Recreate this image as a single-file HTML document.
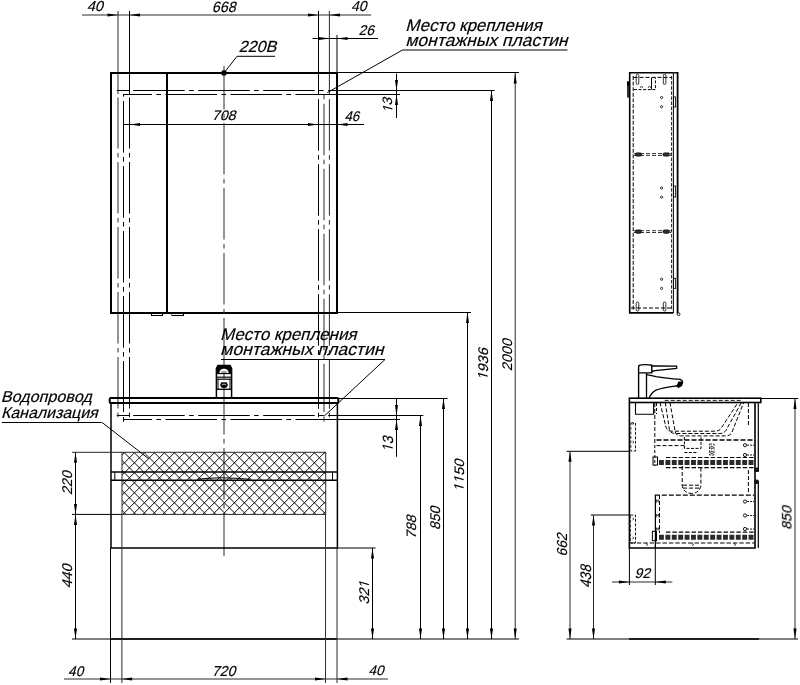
<!DOCTYPE html>
<html><head><meta charset="utf-8"><style>
html,body{margin:0;padding:0;background:#fff;}
svg{display:block;}
text{font-family:"Liberation Sans",sans-serif;}
.tx{will-change:transform;}
</style></head><body>
<svg width="800" height="685" viewBox="0 0 800 685">
<rect width="800" height="685" fill="#fff"/>
<line x1="82" y1="15" x2="371" y2="15" stroke="#2a2a2a" stroke-width="1" />
<polygon points="118.00,15.00 107.50,13.45 107.50,16.55" fill="#000"/>
<polygon points="129.50,15.00 140.00,13.45 140.00,16.55" fill="#000"/>
<polygon points="318.50,15.00 308.00,13.45 308.00,16.55" fill="#000"/>
<polygon points="329.50,15.00 340.00,13.45 340.00,16.55" fill="#000"/>
<line x1="312.5" y1="38.5" x2="378" y2="38.5" stroke="#000" stroke-width="1" />
<line x1="337" y1="35" x2="337" y2="73" stroke="#000" stroke-width="1" />
<polygon points="329.50,38.50 319.00,36.95 319.00,40.05" fill="#000"/>
<polygon points="337.00,38.50 347.50,36.95 347.50,40.05" fill="#000"/>
<line x1="118" y1="11" x2="118" y2="94" stroke="#2a2a2a" stroke-width="1" />
<line x1="118" y1="97.5" x2="118" y2="408.8" stroke="#2a2a2a" stroke-width="1" stroke-dasharray="51.5 4.4 4.6 4.5" stroke-dashoffset="0.5"/>
<line x1="118" y1="412.7" x2="118" y2="417.2" stroke="#2a2a2a" stroke-width="1" />
<line x1="129.5" y1="11" x2="129.5" y2="94" stroke="#000" stroke-width="1" />
<line x1="129.5" y1="97.5" x2="129.5" y2="408.8" stroke="#000" stroke-width="1" stroke-dasharray="51.5 4.4 4.6 4.5" stroke-dashoffset="0.5"/>
<line x1="129.5" y1="412.7" x2="129.5" y2="417.2" stroke="#000" stroke-width="1" />
<line x1="318.5" y1="11" x2="318.5" y2="94" stroke="#000" stroke-width="1" />
<line x1="318.5" y1="97.5" x2="318.5" y2="408.8" stroke="#000" stroke-width="1" stroke-dasharray="51.5 4.4 4.6 4.5" stroke-dashoffset="63.30000000000001"/>
<line x1="318.5" y1="412.7" x2="318.5" y2="417.2" stroke="#000" stroke-width="1" />
<line x1="329.4" y1="11" x2="329.4" y2="94" stroke="#2a2a2a" stroke-width="1" />
<line x1="329.4" y1="97.5" x2="329.4" y2="408.8" stroke="#2a2a2a" stroke-width="1" stroke-dasharray="51.5 4.4 4.6 4.5" stroke-dashoffset="63.30000000000001"/>
<line x1="329.4" y1="412.7" x2="329.4" y2="417.2" stroke="#2a2a2a" stroke-width="1" />
<line x1="123.5" y1="94" x2="123.5" y2="412" stroke="#000" stroke-width="1" stroke-dasharray="51.5 4.4 4.6 4.5" stroke-dashoffset="57.900000000000006"/>
<line x1="123.5" y1="417" x2="123.5" y2="421.7" stroke="#000" stroke-width="1" />
<line x1="324" y1="94" x2="324" y2="412" stroke="#2a2a2a" stroke-width="1" stroke-dasharray="51.5 4.4 4.6 4.5" stroke-dashoffset="55.19999999999999"/>
<line x1="324" y1="417" x2="324" y2="421.7" stroke="#2a2a2a" stroke-width="1" />
<rect x="111" y="73" width="226" height="240" stroke="#000" stroke-width="2" fill="none" />
<line x1="167" y1="73" x2="167" y2="313" stroke="#000" stroke-width="2" />
<rect x="151.5" y="313.5" width="11" height="2" stroke="#000" stroke-width="1" fill="none" />
<rect x="172" y="313.5" width="11.5" height="2" stroke="#000" stroke-width="1" fill="none" />
<line x1="338" y1="72.5" x2="519" y2="72.5" stroke="#000" stroke-width="1" />
<line x1="338" y1="312.5" x2="471" y2="312.5" stroke="#000" stroke-width="1" />
<line x1="116.75" y1="90.5" x2="129.5" y2="90.5" stroke="#000" stroke-width="1" />
<line x1="133.2" y1="90.5" x2="337" y2="90.5" stroke="#000" stroke-width="1" stroke-dasharray="51.5 4.4 4.6 4.5" stroke-dashoffset="0"/>
<line x1="337" y1="90.5" x2="494.6" y2="90.5" stroke="#000" stroke-width="1" />
<line x1="123.5" y1="94.5" x2="337" y2="94.5" stroke="#000" stroke-width="1" stroke-dasharray="51.5 4.4 4.6 4.5" stroke-dashoffset="23.0"/>
<line x1="337" y1="94.5" x2="400" y2="94.5" stroke="#000" stroke-width="1" />
<line x1="224" y1="66" x2="224" y2="556" stroke="#2a2a2a" stroke-width="1" stroke-dasharray="51.5 4.4 4.6 4.5" stroke-dashoffset="8.0"/>
<circle cx="224" cy="73" r="2.8" fill="#000"/>
<path d="M224,73 L237,56.3 L275,56.3" stroke="#000" stroke-width="1" fill="none" />
<line x1="123.5" y1="124.5" x2="364" y2="124.5" stroke="#000" stroke-width="1" />
<polygon points="129.50,124.50 140.00,122.95 140.00,126.05" fill="#000"/>
<polygon points="318.50,124.50 308.00,122.95 308.00,126.05" fill="#000"/>
<polygon points="337.00,124.50 347.50,122.95 347.50,126.05" fill="#000"/>
<line x1="396.5" y1="73.6" x2="396.5" y2="118" stroke="#000" stroke-width="1" />
<polygon points="396.50,90.50 394.95,80.00 398.05,80.00" fill="#000"/>
<polygon points="396.50,94.50 394.95,105.00 398.05,105.00" fill="#000"/>
<line x1="402.5" y1="50" x2="567.5" y2="50" stroke="#000" stroke-width="1" />
<line x1="402.5" y1="50" x2="327.3" y2="92.6" stroke="#000" stroke-width="1" />
<line x1="515.2" y1="73" x2="515.2" y2="639" stroke="#2a2a2a" stroke-width="1" />
<polygon points="515.20,73.00 513.65,83.50 516.75,83.50" fill="#000"/>
<polygon points="515.20,639.00 513.65,628.50 516.75,628.50" fill="#000"/>
<line x1="491.5" y1="90.5" x2="491.5" y2="639" stroke="#000" stroke-width="1" />
<polygon points="491.50,90.50 489.95,101.00 493.05,101.00" fill="#000"/>
<polygon points="491.50,639.00 489.95,628.50 493.05,628.50" fill="#000"/>
<line x1="467.5" y1="312.5" x2="467.5" y2="639" stroke="#000" stroke-width="1" />
<polygon points="467.50,312.50 465.95,323.00 469.05,323.00" fill="#000"/>
<polygon points="467.50,639.00 465.95,628.50 469.05,628.50" fill="#000"/>
<line x1="443.5" y1="398.5" x2="443.5" y2="639" stroke="#000" stroke-width="1" />
<polygon points="443.50,398.50 441.95,409.00 445.05,409.00" fill="#000"/>
<polygon points="443.50,639.00 441.95,628.50 445.05,628.50" fill="#000"/>
<line x1="420.5" y1="415.5" x2="420.5" y2="639" stroke="#000" stroke-width="1" />
<polygon points="420.50,415.50 418.95,426.00 422.05,426.00" fill="#000"/>
<polygon points="420.50,639.00 418.95,628.50 422.05,628.50" fill="#000"/>
<line x1="396.5" y1="398.75" x2="396.5" y2="456.8" stroke="#000" stroke-width="1" />
<polygon points="396.50,415.50 394.95,405.00 398.05,405.00" fill="#000"/>
<polygon points="396.50,419.50 394.95,430.00 398.05,430.00" fill="#000"/>
<line x1="372.5" y1="548" x2="372.5" y2="639" stroke="#000" stroke-width="1" />
<polygon points="372.50,548.00 370.95,558.50 374.05,558.50" fill="#000"/>
<polygon points="372.50,639.00 370.95,628.50 374.05,628.50" fill="#000"/>
<line x1="339" y1="398.5" x2="447.5" y2="398.5" stroke="#000" stroke-width="1" />
<line x1="116.75" y1="415.5" x2="129.5" y2="415.5" stroke="#000" stroke-width="1" />
<line x1="133.2" y1="415.5" x2="337" y2="415.5" stroke="#000" stroke-width="1" stroke-dasharray="51.5 4.4 4.6 4.5" stroke-dashoffset="0"/>
<line x1="337" y1="415.5" x2="423.3" y2="415.5" stroke="#000" stroke-width="1" />
<line x1="123.5" y1="419.5" x2="337" y2="419.5" stroke="#000" stroke-width="1" stroke-dasharray="51.5 4.4 4.6 4.5" stroke-dashoffset="23.0"/>
<line x1="337" y1="419.5" x2="400" y2="419.5" stroke="#000" stroke-width="1" />
<line x1="337" y1="548" x2="375.5" y2="548" stroke="#000" stroke-width="1" />
<line x1="72" y1="639" x2="519" y2="639" stroke="#000" stroke-width="1.2" />
<line x1="111" y1="639" x2="337" y2="639" stroke="#000" stroke-width="1.6" />
<defs><clipPath id="hc"><rect x="122" y="452.3" width="203.7" height="62.099999999999966"/></clipPath></defs>
<path d="M41.90,450.3 L108.00,516.4 M51.90,450.3 L118.00,516.4 M61.90,450.3 L128.00,516.4 M71.90,450.3 L138.00,516.4 M81.90,450.3 L148.00,516.4 M91.90,450.3 L158.00,516.4 M101.90,450.3 L168.00,516.4 M111.90,450.3 L178.00,516.4 M121.90,450.3 L188.00,516.4 M131.90,450.3 L198.00,516.4 M141.90,450.3 L208.00,516.4 M151.90,450.3 L218.00,516.4 M161.90,450.3 L228.00,516.4 M171.90,450.3 L238.00,516.4 M181.90,450.3 L248.00,516.4 M191.90,450.3 L258.00,516.4 M201.90,450.3 L268.00,516.4 M211.90,450.3 L278.00,516.4 M221.90,450.3 L288.00,516.4 M231.90,450.3 L298.00,516.4 M241.90,450.3 L308.00,516.4 M251.90,450.3 L318.00,516.4 M261.90,450.3 L328.00,516.4 M271.90,450.3 L338.00,516.4 M281.90,450.3 L348.00,516.4 M291.90,450.3 L358.00,516.4 M301.90,450.3 L368.00,516.4 M311.90,450.3 L378.00,516.4 M321.90,450.3 L388.00,516.4 M331.90,450.3 L398.00,516.4 M341.90,450.3 L408.00,516.4 M106.90,450.3 L40.80,516.4 M116.90,450.3 L50.80,516.4 M126.90,450.3 L60.80,516.4 M136.90,450.3 L70.80,516.4 M146.90,450.3 L80.80,516.4 M156.90,450.3 L90.80,516.4 M166.90,450.3 L100.80,516.4 M176.90,450.3 L110.80,516.4 M186.90,450.3 L120.80,516.4 M196.90,450.3 L130.80,516.4 M206.90,450.3 L140.80,516.4 M216.90,450.3 L150.80,516.4 M226.90,450.3 L160.80,516.4 M236.90,450.3 L170.80,516.4 M246.90,450.3 L180.80,516.4 M256.90,450.3 L190.80,516.4 M266.90,450.3 L200.80,516.4 M276.90,450.3 L210.80,516.4 M286.90,450.3 L220.80,516.4 M296.90,450.3 L230.80,516.4 M306.90,450.3 L240.80,516.4 M316.90,450.3 L250.80,516.4 M326.90,450.3 L260.80,516.4 M336.90,450.3 L270.80,516.4 M346.90,450.3 L280.80,516.4 M356.90,450.3 L290.80,516.4 M366.90,450.3 L300.80,516.4 M376.90,450.3 L310.80,516.4 M386.90,450.3 L320.80,516.4 M396.90,450.3 L330.80,516.4 M406.90,450.3 L340.80,516.4" stroke="#000" stroke-width="0.95" fill="none" clip-path="url(#hc)"/>
<rect x="122" y="452.3" width="203.7" height="62.099999999999966" stroke="#2a2a2a" stroke-width="1" fill="none" />
<rect x="109.7" y="398" width="228.6" height="5" stroke="#000" stroke-width="2" fill="none"  rx="1"/>
<path d="M111,403 L111,548 L337.4,548 L337.4,403" stroke="#000" stroke-width="1.5" fill="none" />
<line x1="111" y1="472" x2="337.4" y2="472" stroke="#000" stroke-width="1.5" />
<line x1="111" y1="480.3" x2="337.4" y2="480.3" stroke="#000" stroke-width="1.5" />
<line x1="114.8" y1="472" x2="114.8" y2="480.3" stroke="#000" stroke-width="1" />
<line x1="332.5" y1="472" x2="332.5" y2="480.3" stroke="#000" stroke-width="1" />
<path d="M197,479.3 Q220,476.2 250,479.3" stroke="#000" stroke-width="1.1" fill="none" />
<line x1="72" y1="452.3" x2="122" y2="452.3" stroke="#2a2a2a" stroke-width="1" />
<line x1="72" y1="514.4" x2="122" y2="514.4" stroke="#000" stroke-width="1" />
<line x1="110.5" y1="548" x2="110.5" y2="683" stroke="#000" stroke-width="1" />
<line x1="121.9" y1="514.4" x2="121.9" y2="683" stroke="#2a2a2a" stroke-width="1" />
<line x1="325.5" y1="514.4" x2="325.5" y2="683" stroke="#333" stroke-width="1" />
<line x1="337" y1="548" x2="337" y2="683" stroke="#2a2a2a" stroke-width="1" />
<line x1="75.5" y1="452.3" x2="75.5" y2="639" stroke="#000" stroke-width="1" />
<polygon points="75.50,452.30 73.95,462.80 77.05,462.80" fill="#000"/>
<polygon points="75.50,514.40 73.95,503.90 77.05,503.90" fill="#000"/>
<polygon points="75.50,514.40 73.95,524.90 77.05,524.90" fill="#000"/>
<polygon points="75.50,639.00 73.95,628.50 77.05,628.50" fill="#000"/>
<line x1="64" y1="679" x2="388" y2="679" stroke="#2a2a2a" stroke-width="1.1" />
<polygon points="110.50,679.00 100.00,677.45 100.00,680.55" fill="#000"/>
<polygon points="121.70,679.00 132.20,677.45 132.20,680.55" fill="#000"/>
<polygon points="325.50,679.00 315.00,677.45 315.00,680.55" fill="#000"/>
<polygon points="337.00,679.00 347.50,677.45 347.50,680.55" fill="#000"/>
<line x1="1.8" y1="422.5" x2="101.5" y2="422.5" stroke="#000" stroke-width="1" />
<line x1="102" y1="422.4" x2="149" y2="459" stroke="#000" stroke-width="1" />
<line x1="221" y1="359.5" x2="385" y2="359.5" stroke="#000" stroke-width="1" />
<line x1="385" y1="359.5" x2="323.8" y2="416.5" stroke="#000" stroke-width="1" />
<path d="M216.4,397.5 L216.4,368.5 L218,365.4 L230,365.4 L231.6,368.5 L231.6,397.5" stroke="#000" stroke-width="1.5" fill="none" />
<path d="M216.4,368.5 L218,365.4 L230,365.4 L231.6,368.5 L231.6,373.5 L216.4,373.5 Z" stroke="#000" stroke-width="0" fill="#000" />
<path d="M219.2,373.5 Q219.5,369 224,368.8 Q228.5,369 228.8,373.5 Z" stroke="#000" stroke-width="0" fill="#fff" />
<path d="M220.5,373.5 Q221,370.8 224,370.6 Q227,370.8 227.5,373.5 Z" stroke="#000" stroke-width="0" fill="#000" opacity="0.35"/>
<line x1="216.4" y1="373.6" x2="231.6" y2="373.6" stroke="#000" stroke-width="1.1" />
<line x1="216.4" y1="377.2" x2="231.6" y2="377.2" stroke="#000" stroke-width="1.2" />
<line x1="216.4" y1="379.2" x2="231.6" y2="379.2" stroke="#000" stroke-width="1.2" />
<line x1="218" y1="379" x2="218" y2="389" stroke="#000" stroke-width="1" />
<line x1="230" y1="379" x2="230" y2="389" stroke="#000" stroke-width="1" />
<path d="M220,385 L221.5,382.2 L226.5,382.2 L228,385 L226.5,387.8 L221.5,387.8 Z" stroke="#000" stroke-width="0" fill="#000" />
<path d="M221.8,385 Q224,382.8 226.2,385" stroke="#fff" stroke-width="0.8" fill="none" />
<line x1="216.4" y1="389.3" x2="231.6" y2="389.3" stroke="#000" stroke-width="1.3" />
<path d="M673.2,72.8 L629.7,72.8 L629.7,312.9 L673.2,312.9" stroke="#000" stroke-width="1.6" fill="none" />
<line x1="677.6" y1="72" x2="677.6" y2="313.5" stroke="#000" stroke-width="1.8" />
<line x1="673.4" y1="73" x2="673.4" y2="313" stroke="#000" stroke-width="1" />
<line x1="673.2" y1="72.8" x2="678" y2="72.8" stroke="#000" stroke-width="1.4" />
<line x1="633.2" y1="76" x2="633.2" y2="310" stroke="#000" stroke-width="1" stroke-dasharray="4 1.6" stroke-dashoffset="0"/>
<line x1="671.6" y1="76" x2="671.6" y2="310" stroke="#000" stroke-width="0.9" stroke-dasharray="3.5 1.6" stroke-dashoffset="0"/>
<line x1="633.5" y1="77.4" x2="671.6" y2="77.4" stroke="#000" stroke-width="1" stroke-dasharray="4 2" stroke-dashoffset="0"/>
<line x1="631" y1="308" x2="671.6" y2="308" stroke="#000" stroke-width="1" stroke-dasharray="4 2" stroke-dashoffset="0"/>
<path d="M634,89.6 L655.4,89.6 L655.4,77.4" stroke="#000" stroke-width="1" fill="none" stroke-dasharray="3 1.6"/>
<line x1="651.5" y1="78" x2="651.5" y2="89.6" stroke="#000" stroke-width="1" />
<path d="M640,88 L641.5,86 L643,88 M648,88 L649.5,86 L651,88" stroke="#000" stroke-width="0.7" fill="none" />
<rect x="627" y="81.3" width="3" height="4.5" stroke="#000" stroke-width="0" fill="#000" />
<line x1="628" y1="85" x2="628" y2="97.5" stroke="#000" stroke-width="1.6" />
<rect x="636.2" y="74.3" width="2.6" height="10.100000000000009" stroke="#000" stroke-width="0.8" fill="none" rx="1.2"/>
<rect x="636.2" y="302" width="2.6" height="9" stroke="#000" stroke-width="0.8" fill="none" rx="1.2"/>
<rect x="663.3000000000001" y="74.3" width="2.6" height="10.100000000000009" stroke="#000" stroke-width="0.8" fill="none" rx="1.2"/>
<rect x="663.3000000000001" y="302" width="2.6" height="9" stroke="#000" stroke-width="0.8" fill="none" rx="1.2"/>
<line x1="634" y1="153.6" x2="671" y2="153.6" stroke="#000" stroke-width="0.8" stroke-dasharray="4 2" stroke-dashoffset="0"/>
<line x1="634" y1="155.4" x2="671" y2="155.4" stroke="#000" stroke-width="0.8" stroke-dasharray="4 2" stroke-dashoffset="0"/>
<rect x="635.5" y="152.9" width="6" height="3.2" stroke="#000" stroke-width="0.8" fill="#333" rx="1.4"/>
<rect x="663" y="152.9" width="6.5" height="3.2" stroke="#000" stroke-width="0.8" fill="#333" rx="1.4"/>
<line x1="634" y1="230.7" x2="671" y2="230.7" stroke="#000" stroke-width="0.8" stroke-dasharray="4 2" stroke-dashoffset="0"/>
<line x1="634" y1="232.5" x2="671" y2="232.5" stroke="#000" stroke-width="0.8" stroke-dasharray="4 2" stroke-dashoffset="0"/>
<rect x="635.5" y="230.0" width="6" height="3.2" stroke="#000" stroke-width="0.8" fill="#333" rx="1.4"/>
<rect x="663" y="230.0" width="6.5" height="3.2" stroke="#000" stroke-width="0.8" fill="#333" rx="1.4"/>
<circle cx="661.6" cy="97.5" r="1.1" stroke="#000" stroke-width="0.8" fill="none"/>
<circle cx="661.6" cy="106.7" r="1.1" stroke="#000" stroke-width="0.8" fill="none"/>
<circle cx="661.6" cy="188" r="1.1" stroke="#000" stroke-width="0.8" fill="none"/>
<circle cx="661.6" cy="197.2" r="1.1" stroke="#000" stroke-width="0.8" fill="none"/>
<circle cx="661.6" cy="279.2" r="1.1" stroke="#000" stroke-width="0.8" fill="none"/>
<circle cx="661.6" cy="288.4" r="1.1" stroke="#000" stroke-width="0.8" fill="none"/>
<rect x="673.4" y="97" width="2.2" height="10" stroke="#000" stroke-width="0.8" fill="none" />
<rect x="673.4" y="186" width="2.2" height="11" stroke="#000" stroke-width="0.8" fill="none" />
<rect x="673.4" y="278.3" width="2.2" height="10.099999999999966" stroke="#000" stroke-width="0.8" fill="none" />
<circle cx="678.6" cy="314.2" r="1.4" stroke="#000" stroke-width="0.9" fill="#fff"/>
<path d="M638.6,398 L638.6,367 Q638.6,365 641,364.9 Q646,364.3 651.8,365.2 L651.8,372.9 L638.6,372.9" stroke="#000" stroke-width="1.4" fill="none" />
<path d="M651.8,366 L655,365.8 L676.6,366.2 L676.6,368.4 L655,370.6 L651.8,371.5" stroke="#000" stroke-width="1.3" fill="none" />
<line x1="646.5" y1="373" x2="646.5" y2="398" stroke="#000" stroke-width="1.3" />
<path d="M646.5,374.6 Q652,375.4 656,376.6 Q666,378.3 680.5,379.4 L682.8,381.5" stroke="#000" stroke-width="1.3" fill="none" />
<path d="M682.8,381.5 L681.5,385.5 L678.5,387.2 L676.5,385.8 Q662,387.6 656,390.2 Q651.5,392.5 649.2,398" stroke="#000" stroke-width="1.3" fill="none" />
<path d="M678.4,381.5 L682.8,381.5 L681.5,385.5 L678.5,387.2 L676.6,385.8 Z" stroke="#000" stroke-width="0" fill="#000" />
<rect x="629.4" y="398.2" width="131.4" height="4.3" stroke="#000" stroke-width="1.6" fill="#fff" />
<line x1="664.7" y1="400.4" x2="742" y2="400.4" stroke="#000" stroke-width="0.9" stroke-dasharray="4 2" stroke-dashoffset="0"/>
<path d="M629.4,402.5 L629.4,548 L755,548 L755,402.5" stroke="#000" stroke-width="1.6" fill="none" />
<line x1="758.3" y1="402.5" x2="758.3" y2="472" stroke="#000" stroke-width="1.2" />
<line x1="758.3" y1="481" x2="758.3" y2="548" stroke="#000" stroke-width="1.2" />
<line x1="754" y1="402.5" x2="758.3" y2="402.5" stroke="#000" stroke-width="1" />
<rect x="754.2" y="467.6" width="4.6" height="4.4" rx="2" fill="#111"/>
<rect x="754.2" y="479.6" width="4.6" height="4.4" rx="2" fill="#111"/>
<path d="M635.5,402.6 L635.5,414.3 L653.6,414.3 L653.6,402.6" stroke="#000" stroke-width="1.1" fill="none" />
<line x1="654.8" y1="403" x2="654.8" y2="440" stroke="#000" stroke-width="1" stroke-dasharray="4 2" stroke-dashoffset="0"/>
<line x1="656.5" y1="403" x2="656.5" y2="414" stroke="#000" stroke-width="1" stroke-dasharray="3 2" stroke-dashoffset="0"/>
<path d="M660,402.5 L666,427.2 Q667,431.2 672,431.2 L715.2,431.2 Q719.2,431.2 721.2,428.2 L738,402.5" stroke="#000" stroke-width="1" fill="none" stroke-dasharray="4 2"/>
<path d="M665.3,402.5 L669.4,429.5 Q670.4,433.5 675.4,433.5 L719.9,433.5 Q723.9,433.5 725.9,430.5 L741.4,402.5" stroke="#000" stroke-width="1" fill="none" stroke-dasharray="4 2"/>
<path d="M670,402.5 L675.2,431.9 Q676.2,435.9 681.2,435.9 L725.7,435.9 Q729.7,435.9 731.7,432.9 L743.7,402.5" stroke="#000" stroke-width="1" fill="none" stroke-dasharray="4 2"/>
<path d="M684.4,437 L684.4,448.4 L701,448.4 L701,437" stroke="#000" stroke-width="1" fill="none" stroke-dasharray="3 1.5"/>
<line x1="656.5" y1="445.6" x2="684.4" y2="445.6" stroke="#000" stroke-width="1" stroke-dasharray="4 2" stroke-dashoffset="0"/>
<line x1="684.4" y1="452.5" x2="698" y2="452.5" stroke="#000" stroke-width="1" stroke-dasharray="3 1.5" stroke-dashoffset="0"/>
<rect x="709.5" y="444" width="4.5" height="11" stroke="#000" stroke-width="0.8" fill="none" stroke-dasharray="2.5 1.2"/>
<path d="M711,446 L711,449 Q713,449 713,447.5 Q713,446 711,446" stroke="#000" stroke-width="0.7" fill="none" />
<path d="M711,451 L711,454 Q713,454 713,452.5 Q713,451 711,451" stroke="#000" stroke-width="0.7" fill="none" />
<line x1="656.5" y1="440" x2="754" y2="440" stroke="#000" stroke-width="1.6" stroke-dasharray="5 2" stroke-dashoffset="0"/>
<line x1="666" y1="457.5" x2="754" y2="457.5" stroke="#000" stroke-width="1.1" stroke-dasharray="4.4 2" stroke-dashoffset="0"/>
<line x1="659" y1="462.4" x2="754" y2="462.4" stroke="#2a2a2a" stroke-width="5" stroke-dasharray="4.9 1.5" stroke-dashoffset="0"/>
<line x1="666" y1="467.6" x2="754" y2="467.6" stroke="#000" stroke-width="1.1" stroke-dasharray="4.4 2" stroke-dashoffset="0"/>
<line x1="654.8" y1="440" x2="654.8" y2="466" stroke="#000" stroke-width="1" stroke-dasharray="3 2" stroke-dashoffset="0"/>
<rect x="653" y="457" width="4.5" height="8" stroke="#000" stroke-width="1" fill="none" />
<path d="M682.2,466 L682.2,486 Q684,493.4 691.5,493.4 Q699,493.4 700.9,486 L700.9,466" stroke="#000" stroke-width="1" fill="none" stroke-dasharray="4 2"/>
<line x1="683" y1="485.2" x2="700" y2="485.2" stroke="#000" stroke-width="1" stroke-dasharray="4 2" stroke-dashoffset="0"/>
<line x1="683" y1="488.1" x2="700" y2="488.1" stroke="#000" stroke-width="1" stroke-dasharray="4 2" stroke-dashoffset="0"/>
<line x1="748.4" y1="403" x2="748.4" y2="427" stroke="#000" stroke-width="1" stroke-dasharray="4 2" stroke-dashoffset="0"/>
<line x1="748.4" y1="470" x2="748.4" y2="492" stroke="#000" stroke-width="1" stroke-dasharray="4 2" stroke-dashoffset="0"/>
<circle cx="745" cy="445.2" r="1.6" stroke="#000" stroke-width="0.9" fill="none"/>
<line x1="747" y1="445.2" x2="754" y2="445.2" stroke="#000" stroke-width="0.9" stroke-dasharray="2 1" stroke-dashoffset="0"/>
<circle cx="745" cy="455" r="1.6" stroke="#000" stroke-width="0.9" fill="none"/>
<line x1="747" y1="455" x2="754" y2="455" stroke="#000" stroke-width="0.9" stroke-dasharray="2 1" stroke-dashoffset="0"/>
<circle cx="745" cy="501.5" r="1.6" stroke="#000" stroke-width="0.9" fill="none"/>
<line x1="747" y1="501.5" x2="754" y2="501.5" stroke="#000" stroke-width="0.9" stroke-dasharray="2 1" stroke-dashoffset="0"/>
<circle cx="745" cy="515.5" r="1.6" stroke="#000" stroke-width="0.9" fill="none"/>
<line x1="747" y1="515.5" x2="754" y2="515.5" stroke="#000" stroke-width="0.9" stroke-dasharray="2 1" stroke-dashoffset="0"/>
<circle cx="745" cy="529" r="1.6" stroke="#000" stroke-width="0.9" fill="none"/>
<line x1="747" y1="529" x2="754" y2="529" stroke="#000" stroke-width="0.9" stroke-dasharray="2 1" stroke-dashoffset="0"/>
<line x1="654.8" y1="495.1" x2="754" y2="495.1" stroke="#000" stroke-width="1.3" stroke-dasharray="5 2" stroke-dashoffset="0"/>
<line x1="655.4" y1="495.1" x2="655.4" y2="548" stroke="#000" stroke-width="1.2" />
<line x1="659.5" y1="495.1" x2="659.5" y2="533" stroke="#000" stroke-width="1" stroke-dasharray="4 2" stroke-dashoffset="0"/>
<line x1="666" y1="532.1" x2="754" y2="532.1" stroke="#000" stroke-width="1.1" stroke-dasharray="4.4 2" stroke-dashoffset="0"/>
<line x1="659" y1="537.2" x2="754" y2="537.2" stroke="#2a2a2a" stroke-width="5" stroke-dasharray="4.9 1.5" stroke-dashoffset="0"/>
<rect x="652.4" y="531.3" width="4.1" height="9.4" stroke="#000" stroke-width="1" fill="none" />
<path d="M656,503.3 L656.6,499.7 L657.6,501.5 L658.6,499.7 L659.2,503.3" stroke="#000" stroke-width="0.7" fill="none" />
<path d="M656,517.8 L656.6,514.2 L657.6,516 L658.6,514.2 L659.2,517.8" stroke="#000" stroke-width="0.7" fill="none" />
<path d="M656,531.3 L656.6,527.7 L657.6,529.5 L658.6,527.7 L659.2,531.3" stroke="#000" stroke-width="0.7" fill="none" />
<path d="M632.5,422.5 L634.0,423.5 L632.5,424.5" stroke="#000" stroke-width="0.7" fill="none" />
<path d="M632.5,441 L634.0,442 L632.5,443" stroke="#000" stroke-width="0.7" fill="none" />
<path d="M632.5,518 L634.0,519 L632.5,520" stroke="#000" stroke-width="0.7" fill="none" />
<path d="M632.5,537 L634.0,538 L632.5,539" stroke="#000" stroke-width="0.7" fill="none" />
<path d="M646,543.3 L647.8,544.5 L646,545.7" stroke="#000" stroke-width="0.7" fill="none" />
<path d="M692,543.3 L693.8,544.5 L692,545.7" stroke="#000" stroke-width="0.7" fill="none" />
<path d="M734,543.3 L735.8,544.5 L734,545.7" stroke="#000" stroke-width="0.7" fill="none" />
<line x1="630.5" y1="543" x2="754" y2="543" stroke="#000" stroke-width="1.1" stroke-dasharray="4.4 2" stroke-dashoffset="0"/>
<rect x="630.8" y="423" width="4.7" height="28" stroke="#000" stroke-width="0.9" fill="none" stroke-dasharray="3 1.5"/>
<rect x="630.3" y="515" width="5.2" height="28" stroke="#000" stroke-width="0.9" fill="none" stroke-dasharray="3 1.5"/>
<line x1="566.6" y1="451.3" x2="629.4" y2="451.3" stroke="#000" stroke-width="1" />
<line x1="570" y1="451.3" x2="570" y2="639" stroke="#2a2a2a" stroke-width="1" />
<polygon points="570.00,451.30 568.45,461.80 571.55,461.80" fill="#000"/>
<polygon points="570.00,639.00 568.45,628.50 571.55,628.50" fill="#000"/>
<line x1="590.8" y1="515" x2="629.4" y2="515" stroke="#000" stroke-width="1" />
<line x1="593.5" y1="515" x2="593.5" y2="639" stroke="#2a2a2a" stroke-width="1" />
<polygon points="593.50,515.00 591.95,525.50 595.05,525.50" fill="#000"/>
<polygon points="593.50,639.00 591.95,628.50 595.05,628.50" fill="#000"/>
<line x1="612" y1="582" x2="672.3" y2="582" stroke="#2a2a2a" stroke-width="1.1" />
<line x1="629.4" y1="548" x2="629.4" y2="585" stroke="#000" stroke-width="1" />
<line x1="655.3" y1="545" x2="655.3" y2="585" stroke="#000" stroke-width="1" />
<polygon points="629.40,582.00 618.90,580.45 618.90,583.55" fill="#000"/>
<polygon points="655.30,582.00 665.80,580.45 665.80,583.55" fill="#000"/>
<line x1="761" y1="398.5" x2="798.3" y2="398.5" stroke="#000" stroke-width="1" />
<line x1="795" y1="398.5" x2="795" y2="639" stroke="#2a2a2a" stroke-width="1" />
<polygon points="795.00,398.50 793.45,409.00 796.55,409.00" fill="#000"/>
<polygon points="795.00,639.00 793.45,628.50 796.55,628.50" fill="#000"/>
<line x1="566.6" y1="639" x2="798" y2="639" stroke="#000" stroke-width="1.2" />
<line x1="629" y1="639" x2="759" y2="639" stroke="#000" stroke-width="1.6" />
<g opacity="0.999" stroke="#000" stroke-width="0.18"><text x="0" y="0" font-size="15" fill="#000" transform="matrix(0.9762 0.0000 0.0000 0.9624 86.7250 11.4556) skewX(-15)">40</text>
<text x="0" y="0" font-size="15" fill="#000" transform="matrix(0.9509 0.0000 0.0000 0.9859 211.7883 11.6021) skewX(-15)">668</text>
<text x="0" y="0" font-size="15" fill="#000" transform="matrix(0.9286 0.0000 0.0000 0.9671 350.9750 11.3049) skewX(-15)">40</text>
<text x="0" y="0" font-size="15" fill="#000" transform="matrix(0.9217 0.0000 0.0000 0.9390 358.5587 35.2092) skewX(-15)">26</text>
<text x="0" y="0" font-size="16.5" fill="#000" transform="matrix(0.9816 0.0000 0.0000 0.9731 238.5402 52.1894) skewX(-15)">220В</text>
<text x="0" y="0" font-size="15" fill="#000" transform="matrix(0.9554 0.0000 0.0000 0.9155 211.6704 120.3627) skewX(-15)">708</text>
<text x="0" y="0" font-size="15" fill="#000" transform="matrix(0.8850 0.0000 0.0000 0.9390 344.4208 120.5092) skewX(-15)">46</text>
<text x="0" y="0" font-size="15" fill="#000" transform="matrix(0.0000 -0.9028 0.9108 0.0000 392.4134 112.9646) skewX(-15)"> 3</text><g fill="#000" transform="matrix(0.0000 -0.9028 0.9108 0.0000 392.4134 112.9646) skewX(-15)"><path d="M515 0V1237L197 1010V1180L530 1409H696V0Z" transform="translate(0.000 0) scale(0.00732 -0.00732)"/></g>
<text x="0" y="0" font-size="16.9" fill="#000" transform="matrix(1.0011 0 0 1 405.196 30.500) skewX(-15)">Место крепления</text>
<text x="0" y="0" font-size="17.1" fill="#000" transform="matrix(1.0243 0 0 1 405.324 46.250) skewX(-15)">монтажных пластин</text>
<text x="0" y="0" font-size="15" fill="#000" transform="matrix(0.0000 -0.9600 0.9296 0.0000 511.7106 371.3700) skewX(-15)">2000</text>
<text x="0" y="0" font-size="15" fill="#000" transform="matrix(0.0000 -0.9615 0.9343 0.0000 487.6599 380.4173) skewX(-15)"> 936</text><g fill="#000" transform="matrix(0.0000 -0.9615 0.9343 0.0000 487.6599 380.4173) skewX(-15)"><path d="M515 0V1237L197 1010V1180L530 1409H696V0Z" transform="translate(0.000 0) scale(0.00732 -0.00732)"/></g>
<text x="0" y="0" font-size="15" fill="#000" transform="matrix(0.0000 -0.9597 0.9108 0.0000 463.6134 491.8611) skewX(-15)">  50</text><g fill="#000" transform="matrix(0.0000 -0.9597 0.9108 0.0000 463.6134 491.8611) skewX(-15)"><path d="M515 0V1237L197 1010V1180L530 1409H696V0Z" transform="translate(0.000 0) scale(0.00732 -0.00732)"/><path d="M515 0V1237L197 1010V1180L530 1409H696V0Z" transform="translate(8.342 0) scale(0.00732 -0.00732)"/></g>
<text x="0" y="0" font-size="15" fill="#000" transform="matrix(0.0000 -0.9277 0.9390 0.0000 440.3092 529.9024) skewX(-15)">850</text>
<text x="0" y="0" font-size="15" fill="#000" transform="matrix(0.0000 -0.9427 0.9108 0.0000 416.0134 539.0952) skewX(-15)">788</text>
<text x="0" y="0" font-size="15" fill="#000" transform="matrix(0.0000 -0.9236 0.9859 0.0000 392.7021 451.9365) skewX(-15)"> 3</text><g fill="#000" transform="matrix(0.0000 -0.9236 0.9859 0.0000 392.7021 451.9365) skewX(-15)"><path d="M515 0V1237L197 1010V1180L530 1409H696V0Z" transform="translate(0.000 0) scale(0.00732 -0.00732)"/></g>
<text x="0" y="0" font-size="15" fill="#000" transform="matrix(0.0000 -0.9462 0.9390 0.0000 368.9092 604.4855) skewX(-15)">32 </text><g fill="#000" transform="matrix(0.0000 -0.9462 0.9390 0.0000 368.9092 604.4855) skewX(-15)"><path d="M515 0V1237L197 1010V1180L530 1409H696V0Z" transform="translate(16.685 0) scale(0.00732 -0.00732)"/></g>
<text x="0" y="0" font-size="15" fill="#000" transform="matrix(0.0000 -0.9490 0.9390 0.0000 71.5092 495.0618) skewX(-15)">220</text>
<text x="0" y="0" font-size="15" fill="#000" transform="matrix(0.0000 -0.9524 0.9390 0.0000 71.5092 588.3500) skewX(-15)">440</text>
<text x="0" y="0" font-size="15" fill="#000" transform="matrix(0.9048 0.0000 0.0000 0.9390 68.1000 675.6092) skewX(-15)">40</text>
<text x="0" y="0" font-size="15" fill="#000" transform="matrix(0.9448 0.0000 0.0000 0.9624 211.6990 675.6056) skewX(-15)">720</text>
<text x="0" y="0" font-size="15" fill="#000" transform="matrix(0.9226 0.0000 0.0000 0.9155 368.2812 675.3627) skewX(-15)">40</text>
<text x="0" y="0" font-size="15.8" fill="#000" transform="matrix(1.0234 0 0 1 0.706 402.350) skewX(-15)">Водопровод</text>
<text x="0" y="0" font-size="15.8" fill="#000" transform="matrix(1.0083 0 0 1 0.976 418.100) skewX(-15)">Канализация</text>
<text x="0" y="0" font-size="16.9" fill="#000" transform="matrix(1.0033 0 0 1 219.893 339.750) skewX(-15)">Место крепления</text>
<text x="0" y="0" font-size="17.1" fill="#000" transform="matrix(1.0325 0 0 1 220.014 355.250) skewX(-15)">монтажных пластин</text>
<text x="0" y="0" font-size="15" fill="#000" transform="matrix(0.0000 -0.9162 0.9671 0.0000 567.0049 556.4991) skewX(-15)">662</text>
<text x="0" y="0" font-size="15" fill="#000" transform="matrix(0.0000 -0.9127 1.0141 0.0000 590.9979 588.0083) skewX(-15)">438</text>
<text x="0" y="0" font-size="15" fill="#000" transform="matrix(0.9327 0.0000 0.0000 0.9390 634.6009 578.3592) skewX(-15)">92</text>
<text x="0" y="0" font-size="15" fill="#000" transform="matrix(0.0000 -0.9438 0.9671 0.0000 791.5049 529.9241) skewX(-15)">850</text></g>
</svg></body></html>
